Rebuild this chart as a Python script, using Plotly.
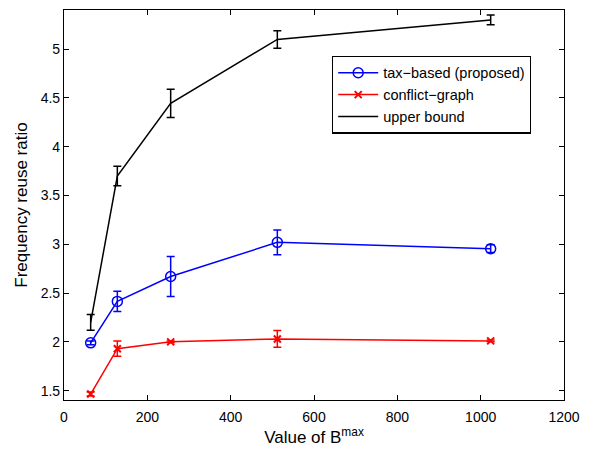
import plotly.graph_objects as go

x_vals = [64, 128, 256, 512, 1024]

tax_mean = [1.99, 2.415, 2.67, 3.02, 2.955]
tax_err = [0.02, 0.105, 0.205, 0.127, 0.04]

conf_mean = [1.465, 1.93, 2.0, 2.03, 2.01]
conf_err = [0.02, 0.078, 0.01, 0.086, 0.01]

ub_mean = [2.2, 3.70, 4.445, 5.10, 5.30]
ub_err = [0.08, 0.10, 0.145, 0.09, 0.05]

names = ["tax\u2212based (proposed)", "conflict\u2212graph", "upper bound"]

fig = go.Figure()
fig.add_trace(go.Scatter(
    x=x_vals, y=tax_mean, name=names[0], mode="lines+markers",
    line=dict(color="#0000ff", width=1.5),
    marker=dict(symbol="circle-open", size=10, color="#0000ff", line=dict(width=1.5)),
    error_y=dict(type="data", array=tax_err, color="#0000ff", thickness=1.5, width=4),
))
fig.add_trace(go.Scatter(
    x=x_vals, y=conf_mean, name=names[1], mode="lines+markers",
    line=dict(color="#ff0000", width=1.5),
    marker=dict(symbol="x-thin-open", size=7, color="#ff0000", line=dict(width=2, color="#ff0000")),
    error_y=dict(type="data", array=conf_err, color="#ff0000", thickness=1.5, width=4),
))
fig.add_trace(go.Scatter(
    x=x_vals, y=ub_mean, name=names[2], mode="lines",
    line=dict(color="#000000", width=1.5),
    error_y=dict(type="data", array=ub_err, color="#000000", thickness=1.5, width=4),
))

axis_common = dict(
    showgrid=False, zeroline=False, showline=True, linecolor="black", linewidth=1.2,
    mirror="ticks", ticks="inside", ticklen=5, tickcolor="black",
    tickfont=dict(family="Liberation Sans, Arial, sans-serif", size=14, color="black"),
)

fig.update_layout(
    width=592, height=450,
    margin=dict(l=64, r=28, t=9, b=47),
    paper_bgcolor="white", plot_bgcolor="white",
    font=dict(family="Liberation Sans, Arial, sans-serif", color="black"),
    xaxis=dict(range=[0, 1200], tickvals=[0, 200, 400, 600, 800, 1000, 1200],
               ticklabelstandoff=4,
               title=dict(text="Value of B<sup>max</sup>", font=dict(size=17), standoff=4),
               **axis_common),
    yaxis=dict(range=[1.404, 5.402], tickvals=[1.5, 2, 2.5, 3, 3.5, 4, 4.5, 5],
               ticktext=["1.5", "2", "2.5", "3", "3.5", "4", "4.5", "5"],
               title=dict(text="Frequency reuse ratio", font=dict(size=17), standoff=8),
               **axis_common),
    legend=dict(x=0.536, y=0.883, xanchor="left", yanchor="top",
                bordercolor="black", borderwidth=1.2, bgcolor="white",
                font=dict(size=14.5), tracegroupgap=0, itemwidth=40),
    showlegend=True,
)

fig.write_html("out.html")
